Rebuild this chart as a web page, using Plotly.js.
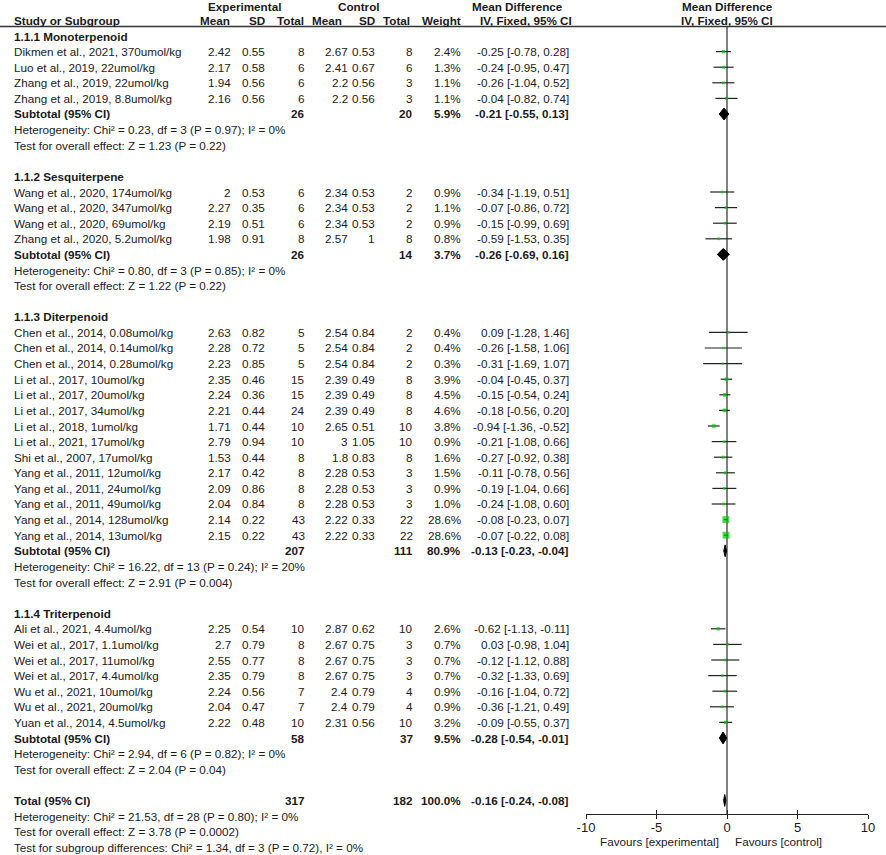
<!DOCTYPE html>
<html><head><meta charset="utf-8">
<script src="https://cdn.plot.ly/plotly-3.0.1.min.js"></script>
<style>html,body{margin:0;padding:0;background:#fff}</style>
</head><body><div id="chart" style="width:886px;height:855px"></div>
<script>
// ---------- DATA ----------
const groupNames = ['1.1.1 Monoterpenoid', '1.1.2 Sesquiterpene', '1.1.3 Diterpenoid', '1.1.4 Triterpenoid'];
const groupSizes = [4, 4, 14, 7];

const studyNames = [
  'Dikmen et al., 2021, 370umol/kg', 'Luo et al., 2019, 22umol/kg', 'Zhang et al., 2019, 22umol/kg', 'Zhang et al., 2019, 8.8umol/kg',
  'Wang et al., 2020, 174umol/kg', 'Wang et al., 2020, 347umol/kg', 'Wang et al., 2020, 69umol/kg', 'Zhang et al., 2020, 5.2umol/kg',
  'Chen et al., 2014, 0.08umol/kg', 'Chen et al., 2014, 0.14umol/kg', 'Chen et al., 2014, 0.28umol/kg', 'Li et al., 2017, 10umol/kg',
  'Li et al., 2017, 20umol/kg', 'Li et al., 2017, 34umol/kg', 'Li et al., 2018, 1umol/kg', 'Li et al., 2021, 17umol/kg',
  'Shi et al., 2007, 17umol/kg', 'Yang et al., 2011, 12umol/kg', 'Yang et al., 2011, 24umol/kg', 'Yang et al., 2011, 49umol/kg',
  'Yang et al., 2014, 128umol/kg', 'Yang et al., 2014, 13umol/kg',
  'Ali et al., 2021, 4.4umol/kg', 'Wei et al., 2017, 1.1umol/kg', 'Wei et al., 2017, 11umol/kg', 'Wei et al., 2017, 4.4umol/kg',
  'Wu et al., 2021, 10umol/kg', 'Wu et al., 2021, 20umol/kg', 'Yuan et al., 2014, 4.5umol/kg'
];
const expMean = [2.42, 2.17, 1.94, 2.16, 2, 2.27, 2.19, 1.98, 2.63, 2.28, 2.23, 2.35, 2.24, 2.21, 1.71, 2.79, 1.53, 2.17, 2.09, 2.04, 2.14, 2.15, 2.25, 2.7, 2.55, 2.35, 2.24, 2.04, 2.22];
const expSD   = [0.55, 0.58, 0.56, 0.56, 0.53, 0.35, 0.51, 0.91, 0.82, 0.72, 0.85, 0.46, 0.36, 0.44, 0.44, 0.94, 0.44, 0.42, 0.86, 0.84, 0.22, 0.22, 0.54, 0.79, 0.77, 0.79, 0.56, 0.47, 0.48];
const expN    = [8, 6, 6, 6, 6, 6, 6, 8, 5, 5, 5, 15, 15, 24, 10, 10, 8, 8, 8, 8, 43, 43, 10, 8, 8, 8, 7, 7, 10];
const ctlMean = [2.67, 2.41, 2.2, 2.2, 2.34, 2.34, 2.34, 2.57, 2.54, 2.54, 2.54, 2.39, 2.39, 2.39, 2.65, 3, 1.8, 2.28, 2.28, 2.28, 2.22, 2.22, 2.87, 2.67, 2.67, 2.67, 2.4, 2.4, 2.31];
const ctlSD   = [0.53, 0.67, 0.56, 0.56, 0.53, 0.53, 0.53, 1, 0.84, 0.84, 0.84, 0.49, 0.49, 0.49, 0.51, 1.05, 0.83, 0.53, 0.53, 0.53, 0.33, 0.33, 0.62, 0.75, 0.75, 0.75, 0.79, 0.79, 0.56];
const ctlN    = [8, 6, 3, 3, 2, 2, 2, 8, 2, 2, 2, 8, 8, 8, 10, 10, 8, 3, 3, 3, 22, 22, 10, 3, 3, 3, 4, 4, 10];
const weight  = [2.4, 1.3, 1.1, 1.1, 0.9, 1.1, 0.9, 0.8, 0.4, 0.4, 0.3, 3.9, 4.5, 4.6, 3.8, 0.9, 1.6, 1.5, 0.9, 1.0, 28.6, 28.6, 2.6, 0.7, 0.7, 0.7, 0.9, 0.9, 3.2];
const md      = [-0.25, -0.24, -0.26, -0.04, -0.34, -0.07, -0.15, -0.59, 0.09, -0.26, -0.31, -0.04, -0.15, -0.18, -0.94, -0.21, -0.27, -0.11, -0.19, -0.24, -0.08, -0.07, -0.62, 0.03, -0.12, -0.32, -0.16, -0.36, -0.09];
const ciLow   = [-0.78, -0.95, -1.04, -0.82, -1.19, -0.86, -0.99, -1.53, -1.28, -1.58, -1.69, -0.45, -0.54, -0.56, -1.36, -1.08, -0.92, -0.78, -1.04, -1.08, -0.23, -0.22, -1.13, -0.98, -1.12, -1.33, -1.04, -1.21, -0.55];
const ciHigh  = [0.28, 0.47, 0.52, 0.74, 0.51, 0.72, 0.69, 0.35, 1.46, 1.06, 1.07, 0.37, 0.24, 0.20, -0.52, 0.66, 0.38, 0.56, 0.66, 0.60, 0.07, 0.08, -0.11, 1.04, 0.88, 0.69, 0.72, 0.49, 0.37];

const subExpN   = [26, 26, 207, 58];
const subCtlN   = [20, 14, 111, 37];
const subWeight = [5.9, 3.7, 80.9, 9.5];
const subMD     = [-0.21, -0.26, -0.13, -0.28];
const subLow    = [-0.55, -0.69, -0.23, -0.54];
const subHigh   = [0.13, 0.16, -0.04, -0.01];
const subHet = [
  'Heterogeneity: Chi² = 0.23, df = 3 (P = 0.97); I² = 0%',
  'Heterogeneity: Chi² = 0.80, df = 3 (P = 0.85); I² = 0%',
  'Heterogeneity: Chi² = 16.22, df = 13 (P = 0.24); I² = 20%',
  'Heterogeneity: Chi² = 2.94, df = 6 (P = 0.82); I² = 0%'
];
const subTest = [
  'Test for overall effect: Z = 1.23 (P = 0.22)',
  'Test for overall effect: Z = 1.22 (P = 0.22)',
  'Test for overall effect: Z = 2.91 (P = 0.004)',
  'Test for overall effect: Z = 2.04 (P = 0.04)'
];
const totalExpN = 317, totalCtlN = 182, totalWeight = 100.0;
const totalMD = -0.16, totalLow = -0.24, totalHigh = -0.08;
const totalNotes = [
  'Heterogeneity: Chi² = 21.53, df = 28 (P = 0.80); I² = 0%',
  'Test for overall effect: Z = 3.78 (P = 0.0002)',
  'Test for subgroup differences: Chi² = 1.34, df = 3 (P = 0.72), I² = 0%'
];
const xTickVals = [-10, -5, 0, 5, 10];
const xTickText = ['-10', '-5', '0', '5', '10'];

// ---------- LAYOUT HELPERS ----------
const W = 886, H = 855;
const ROW0 = 36, PITCH = 15.6;
const FONT = 'Arial, "Liberation Sans", sans-serif';
const FS = 11.7;
const TXT = '#1a1a1a';
const rowPx = r => ROW0 + PITCH * r;
const ann = [];
function t(s, xpx, ypx, anchor, bold, size) {
  ann.push({text: bold ? '<b>' + s + '</b>' : s, x: xpx / W, y: 1 - ypx / H, xref: 'paper', yref: 'paper',
    xanchor: anchor, yanchor: 'middle', showarrow: false, font: {family: FONT, size: size || FS, color: TXT}});
}
const C = {name: 12, eM: 233, eS: 267, eN: 307, cM: 350, cS: 377, cN: 415, w: 463, ci: 571};
const f2 = v => v.toFixed(2);
const ciStr = (m, l, h) => f2(m) + ' [' + f2(l) + ', ' + f2(h) + ']';

// headers
t('Experimental', 244, 6, 'center', true);
t('Control', 359, 6, 'center', true);
t('Mean Difference', 517, 6, 'center', true);
t('Mean Difference', 727, 6, 'center', true);
t('Study or Subgroup', 12, 20, 'left', true);
t('Mean', 232, 20, 'right', true);
t('SD', 267, 20, 'right', true);
t('Total', 306, 20, 'right', true);
t('Mean', 344, 20, 'right', true);
t('SD', 377, 20, 'right', true);
t('Total', 412, 20, 'right', true);
t('Weight', 463, 20, 'right', true);
t('IV, Fixed, 95% CI', 526, 20, 'center', true);
t('IV, Fixed, 95% CI', 727, 20, 'center', true);

// rows
const studyRow = [], subRow = [];
let r = 0, k = 0;
for (let g = 0; g < groupNames.length; g++) {
  t(groupNames[g], C.name, rowPx(r), 'left', true); r++;
  for (let j = 0; j < groupSizes[g]; j++, k++, r++) {
    const y = rowPx(r);
    studyRow.push(r);
    t(studyNames[k], C.name, y, 'left');
    t(String(expMean[k]), C.eM, y, 'right');
    t(String(expSD[k]), C.eS, y, 'right');
    t(String(expN[k]), C.eN, y, 'right');
    t(String(ctlMean[k]), C.cM, y, 'right');
    t(String(ctlSD[k]), C.cS, y, 'right');
    t(String(ctlN[k]), C.cN, y, 'right');
    t(weight[k].toFixed(1) + '%', C.w, y, 'right');
    t(ciStr(md[k], ciLow[k], ciHigh[k]), C.ci, y, 'right');
  }
  const y = rowPx(r);
  subRow.push(r);
  t('Subtotal (95% CI)', C.name, y, 'left', true);
  t(String(subExpN[g]), C.eN, y, 'right', true);
  t(String(subCtlN[g]), C.cN, y, 'right', true);
  t(subWeight[g].toFixed(1) + '%', C.w, y, 'right', true);
  t(ciStr(subMD[g], subLow[g], subHigh[g]), C.ci, y, 'right', true);
  r++;
  t(subHet[g], C.name, rowPx(r), 'left'); r++;
  t(subTest[g], C.name, rowPx(r), 'left'); r++;
  r++; // blank
}
const totalRow = r;
t('Total (95% CI)', C.name, rowPx(r), 'left', true);
t(String(totalExpN), C.eN, rowPx(r), 'right', true);
t(String(totalCtlN), C.cN, rowPx(r), 'right', true);
t(totalWeight.toFixed(1) + '%', C.w, rowPx(r), 'right', true);
t(ciStr(totalMD, totalLow, totalHigh), C.ci, rowPx(r), 'right', true);
r++;
totalNotes.forEach(s => { t(s, C.name, rowPx(r), 'left'); r++; });

t('Favours [experimental]', 721, 841, 'right', false);
t('Favours [control]', 733, 841, 'left', false);

// ---------- TRACES ----------
const studies = {
  type: 'scatter', mode: 'markers', x: md, y: studyRow, hoverinfo: 'skip',
  marker: {symbol: 'square', color: '#00c800', size: weight.map(w => 1.8 + 0.95 * Math.sqrt(w)), line: {width: 0}},
  error_x: {type: 'data', symmetric: false, array: ciHigh.map((h, i) => h - md[i]), arrayminus: ciLow.map((l, i) => md[i] - l),
    width: 0, thickness: 1.2, color: '#222'}
};
const HD = 0.38;
const dx = [], dy = [];
function diamond(m, l, h, row) { dx.push(l, m, h, m, l, null); dy.push(row, row - HD, row, row + HD, row, null); }
subRow.forEach((row, g) => diamond(subMD[g], subLow[g], subHigh[g], row));
diamond(totalMD, totalLow, totalHigh, totalRow);
const diamonds = {type: 'scatter', mode: 'lines', x: dx, y: dy, fill: 'toself', fillcolor: '#000',
  line: {color: '#000', width: 1}, hoverinfo: 'skip'};
const tickHelper = {type: 'scatter', mode: 'markers', x: xTickVals, y: xTickVals.map(() => totalRow), xaxis: 'x2',
  marker: {opacity: 0}, hoverinfo: 'skip'};

const yTop = 26, yBot = 814;
const layout = {
  width: W, height: H, margin: {l: 0, r: 0, t: 0, b: 0}, showlegend: false,
  paper_bgcolor: '#fff', plot_bgcolor: 'rgba(0,0,0,0)',
  font: {family: FONT, color: TXT},
  xaxis: {domain: [586 / W, 868 / W], range: [-10, 10], tickvals: xTickVals, ticktext: xTickText, ticks: 'outside', ticklen: 4,
    tickcolor: '#222', tickwidth: 1, showline: true, linecolor: '#222', linewidth: 1, showgrid: false, ticklabelstandoff: -3,
    zeroline: true, zerolinecolor: '#808080', zerolinewidth: 2, tickfont: {family: FONT, size: 13, color: TXT}, fixedrange: true},
  xaxis2: {overlaying: 'x', anchor: 'y', range: [-10, 10], tickvals: xTickVals, ticks: 'inside', ticklen: 4,
    tickcolor: '#222', tickwidth: 1, showticklabels: false, showline: false, showgrid: false, zeroline: false, side: 'bottom'},
  yaxis: {domain: [1 - yBot / H, 1 - yTop / H], range: [(yBot - ROW0) / PITCH, (yTop - ROW0) / PITCH],
    visible: false, showgrid: false, zeroline: false, fixedrange: true},
  shapes: [{type: 'line', xref: 'paper', yref: 'paper', x0: 0, x1: 1, y0: 1 - 26.5 / H, y1: 1 - 26.5 / H,
    line: {color: '#333', width: 1.3}}],
  annotations: ann
};
Plotly.newPlot('chart', [studies, diamonds, tickHelper], layout, {displayModeBar: false, staticPlot: true});
</script></body></html>
